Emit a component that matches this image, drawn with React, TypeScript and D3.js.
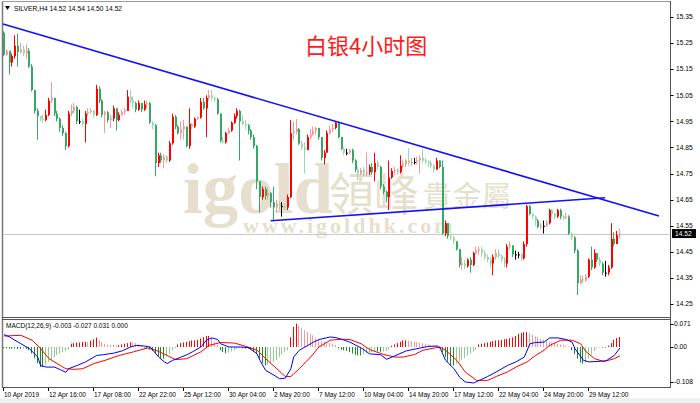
import React from 'react';
import * as d3 from 'd3';

const symbolHeader = 'SILVER,H4  14.52 14.54 14.50 14.52';
const macdHeader = 'MACD(12,26,9) -0.003 -0.027 0.031 0.000';
const titleText = '白银4小时图';

const firstOpen = 15.29;
const closes = [
  15.205, 15.22, 15.175, 15.2, 15.24, 15.215, 15.225, 15.21, 15.22, 15.16,
  15.07, 14.99, 14.97, 14.96, 14.955, 14.975, 15.03, 15.04, 14.98, 14.96,
  14.925, 14.905, 14.855, 14.98, 14.99, 15.005, 14.95, 14.95, 14.94, 14.98,
  14.985, 14.99, 14.975, 15.075, 15.03, 14.975, 14.985, 14.955, 14.96, 15.0,
  14.955, 14.975, 14.985, 14.99, 15.045, 15.03, 15.02, 14.995, 15.02, 14.995,
  15.015, 15.02, 14.945, 14.935, 14.79, 14.82, 14.8, 14.815, 14.8, 14.866,
  14.968, 14.93, 14.905, 14.92, 14.93, 14.855, 14.94, 14.93, 14.96, 14.965,
  15.025, 15.0, 15.04, 15.05, 15.04, 15.035, 14.98, 14.875, 14.87, 14.905,
  14.915, 14.945, 14.97, 14.99, 14.95, 14.94, 14.935, 14.915, 14.89, 14.855,
  14.72, 14.66, 14.69, 14.665, 14.675, 14.64, 14.62, 14.635, 14.625, 14.625,
  14.62, 14.66, 14.905, 14.91, 14.92, 14.865, 14.85, 14.84, 14.89, 14.9,
  14.915, 14.925, 14.89, 14.81, 14.83, 14.905, 14.92, 14.925, 14.945, 14.89,
  14.845, 14.83, 14.83, 14.84, 14.8, 14.765, 14.75, 14.765, 14.75, 14.755,
  14.775, 14.755, 14.79, 14.775, 14.7, 14.68, 14.66, 14.735, 14.76, 14.765,
  14.755, 14.78, 14.785, 14.8, 14.79, 14.795, 14.795, 14.8, 14.81, 14.8,
  14.795, 14.79, 14.78, 14.765, 14.8, 14.775, 14.52, 14.56, 14.51, 14.505,
  14.49, 14.46, 14.4, 14.405, 14.395, 14.42, 14.4, 14.445, 14.455, 14.46,
  14.445, 14.43, 14.42, 14.405, 14.43, 14.445, 14.435, 14.42, 14.405, 14.47,
  14.475, 14.44, 14.44, 14.44, 14.425, 14.48, 14.625, 14.595, 14.585, 14.57,
  14.545, 14.55, 14.55, 14.56, 14.61, 14.595, 14.585, 14.61, 14.585, 14.58,
  14.585, 14.52, 14.505, 14.455, 14.33, 14.345, 14.34, 14.355, 14.42, 14.39,
  14.445, 14.42, 14.405, 14.37, 14.37, 14.39, 14.5, 14.48, 14.515, 14.52,
];
const highs = [
  15.295, 15.225, 15.22, 15.21, 15.28, 15.285, 15.25, 15.24, 15.245, 15.23,
  15.17, 15.07, 15.0, 14.97, 14.975, 14.995, 15.04, 15.1, 15.04, 14.99,
  14.965, 14.935, 14.91, 14.99, 15.015, 15.02, 15.01, 14.995, 14.96, 14.99,
  15.0, 15.0, 14.995, 15.09, 15.085, 15.035, 14.99, 14.99, 14.975, 15.01,
  15.0, 14.985, 14.995, 15.0, 15.07, 15.07, 15.045, 15.025, 15.03, 15.02,
  15.03, 15.03, 15.025, 14.95, 14.94, 14.83, 14.83, 14.825, 14.82, 14.875,
  14.98, 14.975, 14.935, 14.95, 14.955, 14.93, 15.0, 14.945, 14.965, 14.97,
  15.04, 15.04, 15.05, 15.07, 15.07, 15.045, 15.04, 14.98, 14.89, 14.91,
  14.925, 14.95, 14.98, 15.0, 14.995, 14.975, 14.955, 14.94, 14.92, 14.9,
  14.86, 14.72, 14.7, 14.7, 14.695, 14.68, 14.7, 14.65, 14.645, 14.64,
  14.635, 14.67, 14.955, 14.95, 14.96, 14.925, 14.875, 14.87, 14.9, 14.92,
  14.93, 14.93, 14.925, 14.89, 14.84, 14.915, 14.935, 14.94, 14.95, 14.95,
  14.89, 14.85, 14.845, 14.845, 14.845, 14.805, 14.775, 14.77, 14.775, 14.83,
  14.785, 14.79, 14.83, 14.8, 14.78, 14.71, 14.685, 14.8, 14.77, 14.775,
  14.77, 14.82, 14.8, 14.805, 14.847, 14.81, 14.81, 14.815, 14.82, 14.845,
  14.81, 14.8, 14.8, 14.785, 14.81, 14.8, 14.8, 14.57, 14.555, 14.52,
  14.51, 14.49, 14.46, 14.43, 14.42, 14.425, 14.43, 14.45, 14.47, 14.47,
  14.47, 14.455, 14.44, 14.43, 14.44, 14.46, 14.46, 14.44, 14.43, 14.48,
  14.49, 14.475, 14.455, 14.45, 14.445, 14.49, 14.63, 14.63, 14.6, 14.59,
  14.575, 14.56, 14.57, 14.57, 14.615, 14.615, 14.6, 14.615, 14.615, 14.59,
  14.6, 14.59, 14.525, 14.51, 14.46, 14.36, 14.36, 14.365, 14.425, 14.47,
  14.46, 14.445, 14.43, 14.41, 14.415, 14.4, 14.56, 14.525, 14.53, 14.54,
];
const lows = [
  15.2, 15.2, 15.13, 15.16, 15.19, 15.16, 15.21, 15.2, 15.19, 15.155,
  15.065, 14.98, 14.88, 14.95, 14.945, 14.95, 14.97, 15.02, 14.97, 14.95,
  14.91, 14.895, 14.84, 14.85, 14.97, 14.98, 14.94, 14.94, 14.93, 14.87,
  14.97, 14.98, 14.965, 14.97, 15.02, 14.965, 14.905, 14.945, 14.925, 14.95,
  14.915, 14.95, 14.97, 14.975, 14.99, 15.02, 15.0, 14.985, 14.99, 14.985,
  14.99, 15.0, 14.94, 14.92, 14.74, 14.775, 14.79, 14.77, 14.79, 14.795,
  14.86, 14.92, 14.9, 14.88, 14.88, 14.85, 14.845, 14.92, 14.925, 14.955,
  14.96, 14.995, 14.89, 15.03, 15.03, 15.025, 14.975, 14.87, 14.865, 14.865,
  14.9, 14.91, 14.94, 14.96, 14.8, 14.935, 14.92, 14.9, 14.88, 14.845,
  14.69, 14.6, 14.65, 14.65, 14.65, 14.62, 14.57, 14.6, 14.61, 14.585,
  14.61, 14.61, 14.655, 14.88, 14.9, 14.86, 14.84, 14.75, 14.84, 14.88,
  14.895, 14.9, 14.88, 14.8, 14.785, 14.83, 14.9, 14.91, 14.92, 14.885,
  14.84, 14.82, 14.82, 14.825, 14.79, 14.755, 14.725, 14.745, 14.74, 14.74,
  14.745, 14.745, 14.72, 14.765, 14.69, 14.67, 14.64, 14.61, 14.73, 14.745,
  14.745, 14.75, 14.77, 14.775, 14.78, 14.78, 14.785, 14.785, 14.75, 14.79,
  14.785, 14.775, 14.77, 14.755, 14.765, 14.77, 14.515, 14.51, 14.5, 14.495,
  14.48, 14.455, 14.39, 14.38, 14.385, 14.39, 14.37, 14.395, 14.44, 14.44,
  14.43, 14.42, 14.41, 14.39, 14.36, 14.42, 14.425, 14.41, 14.39, 14.39,
  14.46, 14.43, 14.42, 14.425, 14.415, 14.42, 14.47, 14.59, 14.575, 14.55,
  14.54, 14.535, 14.52, 14.545, 14.555, 14.585, 14.575, 14.58, 14.575, 14.57,
  14.575, 14.515, 14.495, 14.445, 14.285, 14.325, 14.33, 14.335, 14.35, 14.38,
  14.385, 14.41, 14.395, 14.36, 14.355, 14.36, 14.385, 14.47, 14.505, 14.5,
];

const histogram = [
  -0.004, -0.004, -0.005, -0.005, -0.005, -0.006, -0.006, -0.005, -0.006, -0.01,
  -0.02, -0.035, -0.05, -0.062, -0.062, -0.055, -0.046, -0.04, -0.031, -0.025, -0.02, -0.016, -0.012, -0.008,
  0.01, 0.012, 0.014, 0.014, 0.016, 0.016, 0.015, 0.02, 0.024, 0.029, 0.022, 0.016,
  0.01, 0.008, 0.007, 0.006, 0.005, 0.006, 0.008, 0.01, 0.012,
  0.015, 0.014, 0.012, 0.008, 0.004,
  -0.002, -0.005, -0.008, -0.012,
  -0.02, -0.028, -0.034, -0.036, -0.03, -0.022,
  -0.012, -0.004,
  0.008, 0.012, 0.014, 0.016, 0.018, 0.02, 0.02, 0.022,
  0.026, 0.03, 0.034, 0.034, 0.03,
  0.015, 0.006,
  -0.01, -0.016, -0.02, -0.018, -0.014, -0.01,
  -0.006, -0.004, -0.004, -0.005, -0.006, -0.008,
  -0.015, -0.022, -0.036, -0.05, -0.057, -0.055, -0.05, -0.046, -0.04, -0.031, -0.022, -0.015, -0.01,
  0.03, 0.062, 0.072, 0.066, 0.058, 0.052, 0.046, 0.041, 0.036, 0.028, 0.022,
  0.018, 0.016, 0.014, 0.012, 0.01, 0.006,
  -0.004, -0.008, -0.01, -0.012, -0.016, -0.02, -0.024, -0.026, -0.026, -0.022, -0.02, -0.016, -0.015, -0.012, -0.014, -0.015, -0.014, -0.012, -0.008,
  0.004, 0.008, 0.012, 0.016, 0.02, 0.021, 0.02, 0.018, 0.017, 0.016, 0.014, 0.012, 0.01, 0.008, 0.006, 0.005, 0.004,
  -0.004, -0.015, -0.03, -0.045, -0.057, -0.057, -0.052, -0.045, -0.04, -0.034, -0.026, -0.02, -0.014, -0.008,
  0.008, 0.01, 0.012, 0.014, 0.016, 0.018, 0.02, 0.021, 0.022, 0.024, 0.025, 0.027, 0.03, 0.034, 0.04, 0.043, 0.046, 0.046, 0.043, 0.038, 0.033, 0.03,
  0.026, 0.022, 0.02, 0.016, 0.014, 0.012, 0.01, 0.008, 0.006, 0.004, 0.002,
  -0.01, -0.022, -0.036, -0.048, -0.051, -0.048, -0.036, -0.024, -0.012, -0.004, -0.002, -0.002, -0.002, 0.004, 0.012, 0.022, 0.028, 0.031,
];

// [bar index, value] readings of the MACD main line (blue) and signal (red)
const macdMain: [number, number][] = [
  [0, 0.038], [2, 0.031], [6, 0.01], [9, -0.005], [12, -0.031], [13, -0.057], [15, -0.062], [18, -0.062],
  [20, -0.07], [22, -0.078], [23, -0.067], [26, -0.057], [29, -0.046], [33, -0.026], [35, -0.024], [39, -0.019],
  [42, -0.012], [45, 0.0], [47, 0.005], [50, 0.003], [52, 0.0], [53, -0.01], [55, -0.031], [57, -0.046],
  [58, -0.051], [60, -0.041], [63, -0.031], [65, -0.024], [67, -0.015], [70, 0.0], [72, 0.021], [74, 0.028],
  [76, 0.023], [77, 0.01], [80, 0.0], [84, 0.0], [87, -0.002], [90, -0.021], [91, -0.041], [93, -0.072],
  [96, -0.087], [98, -0.098], [100, -0.096], [102, -0.067], [103, -0.031], [105, -0.01], [108, 0.005], [110, 0.015],
  [112, 0.023], [116, 0.031], [118, 0.029], [120, 0.024], [123, 0.015], [127, -0.003], [130, -0.021], [134, -0.024],
  [136, -0.038], [138, -0.031], [143, -0.012], [148, -0.003], [151, 0.002], [154, 0.003], [155, -0.002], [157, -0.041],
  [160, -0.067], [162, -0.093], [164, -0.108], [167, -0.111], [169, -0.103], [172, -0.091], [175, -0.077], [179, -0.057],
  [182, -0.046], [185, -0.031], [187, 0.01], [189, 0.014], [192, 0.015], [194, 0.028], [197, 0.028], [200, 0.023],
  [202, 0.015], [203, -0.005], [206, -0.041], [208, -0.046], [212, -0.044], [214, -0.043], [217, -0.026], [219, -0.003],
];
const macdSignal: [number, number][] = [
  [0, 0.034], [6, 0.036], [10, 0.021], [13, -0.005], [16, -0.036], [20, -0.057], [22, -0.067], [25, -0.069],
  [28, -0.067], [32, -0.051], [36, -0.041], [41, -0.026], [46, -0.015], [51, -0.003], [54, -0.01], [58, -0.026],
  [61, -0.039], [65, -0.036], [70, -0.015], [73, 0.005], [77, 0.014], [82, 0.012], [86, 0.002], [90, -0.01],
  [93, -0.036], [97, -0.067], [100, -0.091], [102, -0.091], [105, -0.067], [109, -0.031], [112, 0.0], [116, 0.021],
  [120, 0.024], [123, 0.023], [127, 0.01], [130, -0.008], [135, -0.023], [139, -0.031], [142, -0.031], [146, -0.023],
  [149, -0.01], [153, -0.003], [155, 0.0], [157, -0.01], [161, -0.041], [164, -0.077], [168, -0.103], [172, -0.103],
  [175, -0.091], [179, -0.077], [182, -0.062], [186, -0.046], [189, -0.026], [192, -0.01], [194, 0.005], [198, 0.021],
  [202, 0.021], [205, 0.01], [207, -0.015], [210, -0.036], [213, -0.044], [215, -0.041], [217, -0.036], [219, -0.027],
];

const dateLabels = [
  '10 Apr 2019', '12 Apr 16:00', '17 Apr 08:00', '22 Apr 22:00', '25 Apr 12:00', '30 Apr 04:00', '2 May 20:00',
  '7 May 12:00', '10 May 04:00', '14 May 20:00', '17 May 12:00', '22 May 04:00', '24 May 20:00', '29 May 12:00',
];
const dateLabelBars = [0, 16, 32, 48, 64, 80, 96, 112, 128, 144, 160, 176, 192, 208];
const priceTicks = [15.35, 15.25, 15.15, 15.05, 14.95, 14.85, 14.75, 14.65, 14.55, 14.45, 14.35, 14.25];
const macdTicks = [0.071, 0.0, -0.108];
const macdTickLabels = ['0.071', '0.00', '-0.108'];
const upperTrend: [number, number][] = [[-0.36, 15.323], [232.9, 14.587]];
const lowerTrend: [number, number][] = [[94.8, 14.569], [213.7, 14.657]];
const lastPrice = 14.52;

const W = 700;
const H = 403;
const axisX = 670.5;
const font = '"Liberation Sans", Arial, sans-serif';
const fs = 6.7;

export default function App() {
  const n = closes.length;
  const x = d3.scaleLinear().domain([0, n - 1]).range([4, 4 + (n - 1) * 2.8125]);
  const yP = d3.scaleLinear().domain([14.25, 15.35]).range([304, 17]);
  const yM = d3.scaleLinear().domain([-0.108, 0.071]).range([382, 324]);
  const opens = closes.map((c, i) => (i === 0 ? firstOpen : closes[i - 1]));

  const line = d3.line<[number, number]>().x(d => x(d[0])).y(d => yM(d[1]));
  const trend = d3.line<[number, number]>().x(d => x(d[0])).y(d => yP(d[1]));

  const candleColor = (o: number, c: number) => {
    const d = c - o;
    if (Math.abs(d) < 0.003) return '#000000';
    const light = Math.abs(d) < 0.016;
    if (d > 0) return light ? '#f49a9a' : '#ff0000';
    return light ? '#9ad8b0' : '#36a865';
  };

  const histColor = (v: number, i: number) => {
    const prev = i > 0 ? histogram[i - 1] : 0;
    if (v >= 0) return v >= prev ? '#ff0000' : '#f49a9a';
    return v <= prev ? '#1f8a1f' : '#8fd08f';
  };

  return (
    <svg width={W} height={H} style={{ position: 'absolute', left: 0, top: 0, background: '#ffffff' }}
      fontFamily={font}>
      <rect x={0} y={0} width={W} height={H} fill="#ffffff" />
      {/* watermark */}
      <g fill="#e6dfcd">
        <text x={183} y={213} fontSize={71} fontWeight="bold" fontFamily='"Liberation Serif", "DejaVu Serif", serif'>igold</text>
        <text x={329} y={211} fontSize={45} fontFamily='"Noto Sans CJK TC", sans-serif'>領峰</text>
        <text x={423} y={207} fontSize={29} letterSpacing={0.5} fontFamily='"Noto Sans CJK TC", sans-serif'>貴金屬</text>
        <text x={243} y={233} fontSize={22} letterSpacing={3} fontWeight="bold" fontFamily='"Liberation Serif", "DejaVu Serif", serif'>www.igoldhk.com</text>
      </g>
      {/* panels */}
      <line x1={2.5} y1={1.5} x2={2.5} y2={387.5} stroke="#7a7a7a" strokeWidth={1.5} />
      <line x1={2} y1={1.5} x2={axisX} y2={1.5} stroke="#9a9a9a" />
      <line x1={axisX} y1={1} x2={axisX} y2={388} stroke="#555" />
      <line x1={2} y1={317.5} x2={axisX} y2={317.5} stroke="#555" />
      <line x1={2} y1={319.5} x2={axisX} y2={319.5} stroke="#555" />
      <line x1={2} y1={387.5} x2={axisX} y2={387.5} stroke="#555" />
      <rect x={0} y={398} width={W} height={5} fill="#f0f0f0" />

      {/* last price line */}
      <line x1={3} x2={axisX} y1={Math.round(yP(lastPrice)) + 0.5} y2={Math.round(yP(lastPrice)) + 0.5} stroke="#c8c8c8" />

      {/* candles */}
      {closes.map((c, i) => {
        const o = opens[i];
        const cx = Math.round(x(i));
        const col = candleColor(o, c);
        const top = yP(Math.max(o, c));
        const bot = yP(Math.min(o, c));
        return (
          <g key={i}>
            <line x1={cx - 0.5} x2={cx - 0.5} y1={yP(highs[i])} y2={yP(lows[i])} stroke={col} strokeWidth={1} />
            <rect x={cx - 1} y={top} width={2} height={Math.max(1, bot - top)} fill={col} />
          </g>
        );
      })}

      {/* trend lines */}
      <path d={trend(upperTrend) || ''} stroke="#1010ff" strokeWidth={1.6} fill="none" />
      <path d={trend(lowerTrend) || ''} stroke="#1010ff" strokeWidth={1.6} fill="none" />

      {/* title */}
      <text x={305} y={54} fontSize={22} fill="#ff1a1a" fontFamily='"Noto Sans CJK SC", sans-serif'>{titleText}</text>

      {/* header */}
      <path d="M5,6 L10,6 L7.5,10 Z" fill="#000" />
      <text x={14} y={11} fontSize={fs} fill="#000">{symbolHeader}</text>

      {/* price axis */}
      {priceTicks.map(t => (
        <g key={t}>
          <line x1={axisX} x2={axisX + 3} y1={Math.round(yP(t)) + 0.5} y2={Math.round(yP(t)) + 0.5} stroke="#000" />
          <text x={676} y={yP(t) + 2.3} fontSize={fs} fill="#000">{t.toFixed(2)}</text>
        </g>
      ))}
      <rect x={672} y={yP(lastPrice) - 4.5} width={24} height={9} fill="#000" />
      <text x={675} y={yP(lastPrice) + 2.3} fontSize={fs} fill="#fff">{lastPrice.toFixed(2)}</text>

      {/* MACD histogram */}
      {histogram.map((v, i) => {
        const cx = Math.round(x(i)) - 0.5;
        return <line key={i} x1={cx} x2={cx} y1={yM(0)} y2={yM(v)} stroke={histColor(v, i)} strokeWidth={1} />;
      })}
      <path d={line(macdSignal) || ''} stroke="#ff0000" strokeWidth={1} fill="none" />
      <path d={line(macdMain) || ''} stroke="#0000ff" strokeWidth={1} fill="none" />
      <text x={6} y={328} fontSize={6.5} fill="#000">{macdHeader}</text>
      {macdTicks.map((t, k) => (
        <g key={k}>
          <line x1={axisX} x2={axisX + 3} y1={Math.round(yM(t)) + 0.5} y2={Math.round(yM(t)) + 0.5} stroke="#000" />
          <text x={674} y={yM(t) + 2.3} fontSize={fs} fill="#000">{macdTickLabels[k]}</text>
        </g>
      ))}

      {/* time axis */}
      {dateLabels.map((lab, k) => {
        const tx = Math.round(x(dateLabelBars[k])) - 0.5;
        return (
          <g key={lab}>
            <line x1={tx} x2={tx} y1={388} y2={391} stroke="#000" />
            <text x={tx + 0.5} y={396.5} fontSize={6.5} fill="#000">{lab}</text>
          </g>
        );
      })}
    </svg>
  );
}
